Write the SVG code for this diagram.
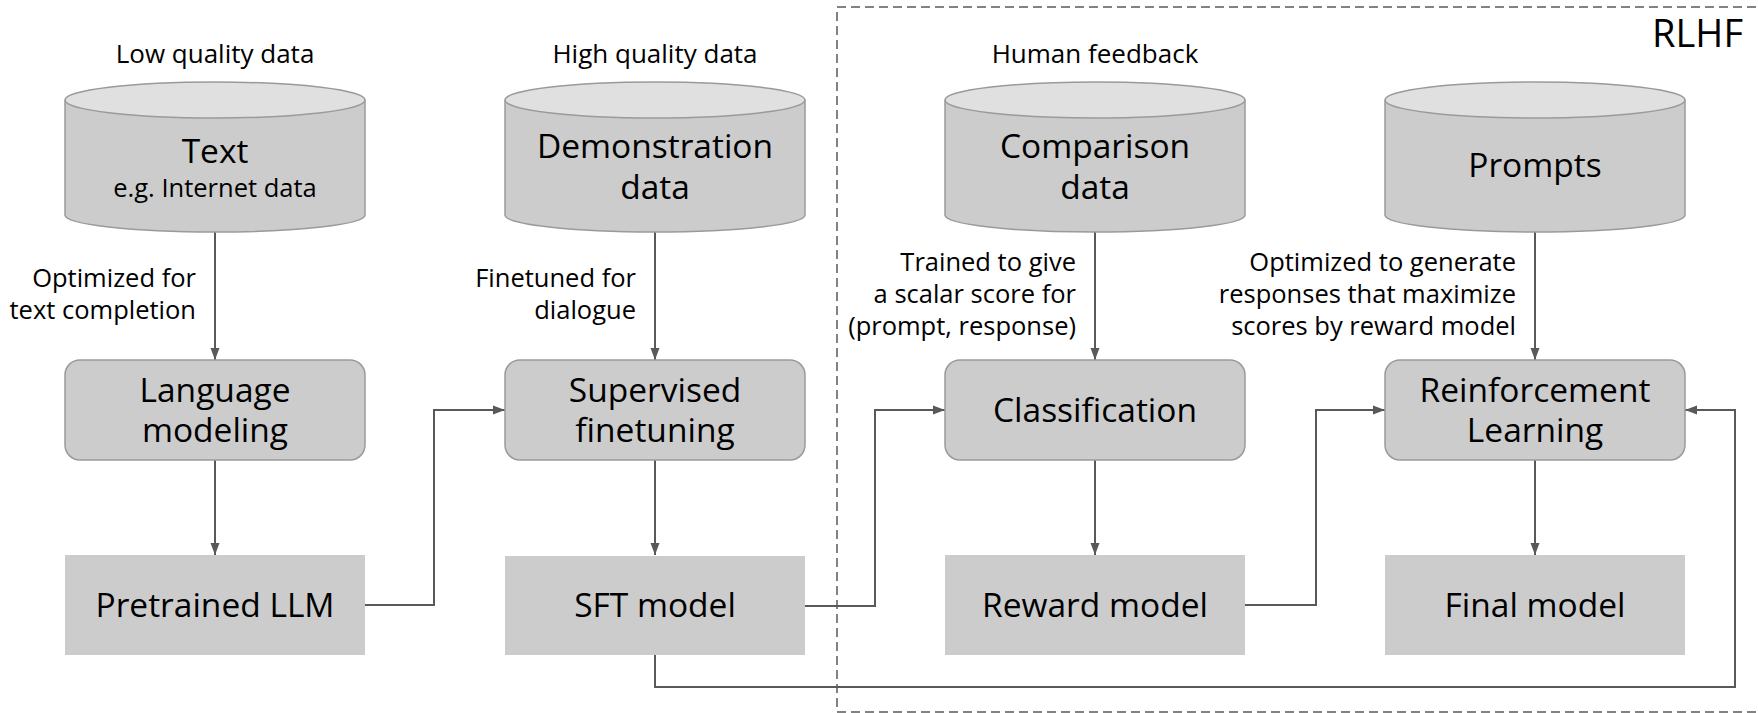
<svg xmlns="http://www.w3.org/2000/svg" width="1758" height="713" viewBox="0 0 1758 713">
  <defs>
    <style>
      .t { font-family: "Open Sans", "Noto Sans", "Liberation Sans", sans-serif; fill: #000; }
      .big { font-size: 33.5px; text-anchor: middle; }
      .cap { font-size: 26px; text-anchor: middle; }
      .sub { font-size: 25.5px; text-anchor: middle; }
      .note { font-size: 25.5px; text-anchor: end; }
      .cyl-body { fill: #cccccc; stroke: #9a9a9a; stroke-width: 1.5; }
      .cyl-top { fill: #e0e0e0; stroke: #9a9a9a; stroke-width: 1.5; }
      .step { fill: #cccccc; stroke: #9a9a9a; stroke-width: 1.5; }
      .model { fill: #cccccc; }
      .link { fill: none; stroke: #595959; stroke-width: 2; marker-end: url(#arrow); }
      .frame { fill: none; stroke: #595959; stroke-width: 1.5; stroke-dasharray: 9 5; }
    </style>
    <marker id="arrow" markerUnits="userSpaceOnUse" markerWidth="12" markerHeight="10" refX="12" refY="5" orient="auto">
      <path d="M0,0.5 L12,5 L0,9.5 z" fill="#595959"/>
    </marker>
    <!-- cylinder drawn around center x=0 -->
    <g id="cyl">
      <path class="cyl-body" d="M-150,100 V215 A150,17 0 0 0 150,215 V100"/>
      <ellipse class="cyl-top" cx="0" cy="100" rx="150" ry="18"/>
    </g>
  </defs>

  <!-- RLHF region -->
  <g id="rlhf-frame">
    <rect class="frame" x="837" y="7" width="940" height="705"/>
    <text class="t" x="1743" y="47" font-size="38" text-anchor="end">RLHF</text>
  </g>

  <!-- connectors -->
  <g id="connectors">
    <path class="link" d="M215,232 V360"/>
    <path class="link" d="M215,460 V555"/>
    <path class="link" d="M365,605 H434 V410 H505"/>
    <path class="link" d="M655,232 V360"/>
    <path class="link" d="M655,460 V555"/>
    <path class="link" d="M805,606 H875 V410 H945"/>
    <path class="link" d="M1095,232 V360"/>
    <path class="link" d="M1095,460 V555"/>
    <path class="link" d="M1245,605 H1316 V410 H1385"/>
    <path class="link" d="M1535,232 V360"/>
    <path class="link" d="M1535,460 V555"/>
    <path class="link" d="M655,655 V687 H1735 V410 H1685"/>
  </g>

  <!-- edge notes -->
  <g id="notes">
    <text class="t note"><tspan x="196" y="287">Optimized for</tspan><tspan x="196" y="319">text completion</tspan></text>
    <text class="t note"><tspan x="636" y="287">Finetuned for</tspan><tspan x="636" y="319">dialogue</tspan></text>
    <text class="t note"><tspan x="1076" y="271">Trained to give</tspan><tspan x="1076" y="303">a scalar score for</tspan><tspan x="1076" y="335">(prompt, response)</tspan></text>
    <text class="t note"><tspan x="1516" y="271">Optimized to generate</tspan><tspan x="1516" y="303">responses that maximize</tspan><tspan x="1516" y="335">scores by reward model</tspan></text>
  </g>

  <!-- data sources -->
  <g id="text-data">
    <text class="t cap" x="215" y="63">Low quality data</text>
    <use href="#cyl" x="215"/>
    <text class="t big" x="215" y="163">Text</text>
    <text class="t sub" x="215" y="197">e.g. Internet data</text>
  </g>
  <g id="demonstration-data">
    <text class="t cap" x="655" y="63">High quality data</text>
    <use href="#cyl" x="655"/>
    <text class="t big"><tspan x="655" y="158">Demonstration</tspan><tspan x="655" y="199">data</tspan></text>
  </g>
  <g id="comparison-data">
    <text class="t cap" x="1095" y="63">Human feedback</text>
    <use href="#cyl" x="1095"/>
    <text class="t big"><tspan x="1095" y="158">Comparison</tspan><tspan x="1095" y="199">data</tspan></text>
  </g>
  <g id="prompts">
    <use href="#cyl" x="1535"/>
    <text class="t big" x="1535" y="177">Prompts</text>
  </g>

  <!-- training steps -->
  <g id="language-modeling">
    <rect class="step" x="65" y="360" width="300" height="100" rx="15"/>
    <text class="t big"><tspan x="215" y="402">Language</tspan><tspan x="215" y="442">modeling</tspan></text>
  </g>
  <g id="supervised-finetuning">
    <rect class="step" x="505" y="360" width="300" height="100" rx="15"/>
    <text class="t big"><tspan x="655" y="402">Supervised</tspan><tspan x="655" y="442">finetuning</tspan></text>
  </g>
  <g id="classification">
    <rect class="step" x="945" y="360" width="300" height="100" rx="15"/>
    <text class="t big" x="1095" y="422">Classification</text>
  </g>
  <g id="reinforcement-learning">
    <rect class="step" x="1385" y="360" width="300" height="100" rx="15"/>
    <text class="t big"><tspan x="1535" y="402">Reinforcement</tspan><tspan x="1535" y="442">Learning</tspan></text>
  </g>

  <!-- resulting models -->
  <g id="pretrained-llm">
    <rect class="model" x="65" y="555" width="300" height="100"/>
    <text class="t big" x="215" y="617">Pretrained LLM</text>
  </g>
  <g id="sft-model">
    <rect class="model" x="505" y="556" width="300" height="99"/>
    <text class="t big" x="655" y="617">SFT model</text>
  </g>
  <g id="reward-model">
    <rect class="model" x="945" y="555" width="300" height="100"/>
    <text class="t big" x="1095" y="617">Reward model</text>
  </g>
  <g id="final-model">
    <rect class="model" x="1385" y="555" width="300" height="100"/>
    <text class="t big" x="1535" y="617">Final model</text>
  </g>
</svg>
